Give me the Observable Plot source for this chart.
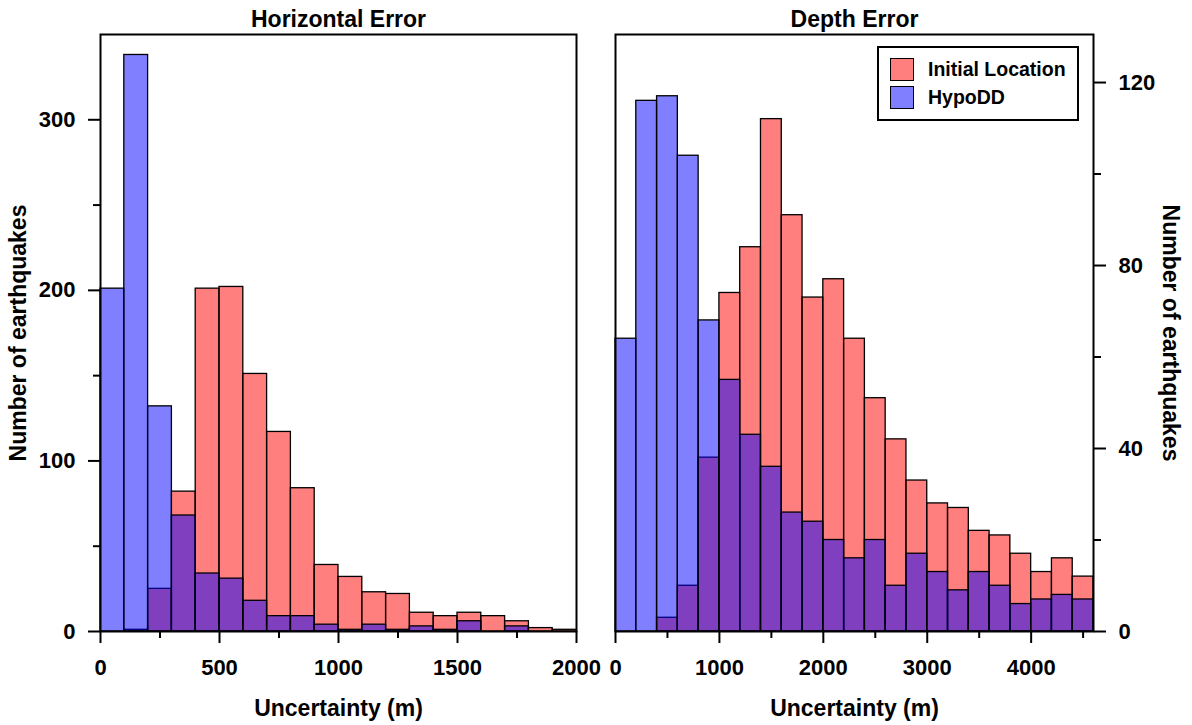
<!DOCTYPE html>
<html>
<head>
<meta charset="utf-8">
<script src="https://cdn.jsdelivr.net/npm/d3@7"></script>
<script src="https://cdn.jsdelivr.net/npm/@observablehq/plot@0.6"></script>
<style>
  html, body { margin: 0; padding: 0; background: white; }
  #wrap { position: relative; width: 1192px; height: 725px; overflow: hidden; font-family: "Liberation Sans", Arial, sans-serif; }
  #wrap svg { position: absolute; left: 0; top: 0; }
  #legend { position: absolute; left: 877px; top: 46px; width: 198px; height: 71px; border: 2px solid #000; background: #fff; font-weight: bold; font-size: 19.5px; }
  .li { position: absolute; left: 11px; height: 23px; display: flex; align-items: center; }
  .sw { width: 22px; height: 21px; border: 1px solid #000; margin-right: 14px; }
</style>
</head>
<body>
<div id="wrap"></div>
<script>
// Horizontal error histogram (bin width 100 m)
const hBins = [0,100,200,300,400,500,600,700,800,900,1000,1100,1200,1300,1400,1500,1600,1700,1800,1900];
const hInitial = [0,1,25,82,201,202,151,117,84,39,32,23,22,11,9,11,9,6,2,1];
const hHypoDD = [201,338,132,68,34,31,18,9,9,4,1,4,1,3,1,6,0,3,0,0];
const hXMajor = [0,500,1000,1500,2000];
const hXMinor = [250,750,1250,1750];
const hYMajor = [0,100,200,300];
const hYMinor = [50,150,250];

// Depth error histogram (bin width 200 m)
const dBins = [0,200,400,600,800,1000,1200,1400,1600,1800,2000,2200,2400,2600,2800,3000,3200,3400,3600,3800,4000,4200,4400];
const dInitial = [0,0,3,10,38,74,84,112,91,73,77,64,51,42,33,28,27,22,21,17,13,16,12];
const dHypoDD = [64,116,117,104,68,55,43,36,26,24,20,16,20,10,17,13,9,13,10,6,7,8,7];
const dXMajor = [0,1000,2000,3000,4000];
const dXMinor = [500,1500,2500,3500,4500];
const dYMajor = [0,40,80,120];
const dYMinor = [20,60,100];

const seriesNames = ["Initial Location", "HypoDD"];
const seriesColors = ["red", "blue"];
const swatchColors = ["rgba(255,0,0,0.5)", "rgba(0,0,255,0.5)"];

const font = '"Liberation Sans", Arial, sans-serif';

function rows(bins, counts, width) {
  return bins.map((b, i) => ({x1: b, x2: b + width, n: counts[i]}));
}

function panel(opts) {
  const {bins, width, initial, hypo, xDomain, yDomain, xMajor, xMinor, yMajor, yMinor,
         yAnchor, title, ml, mr, ylabDx} = opts;
  return Plot.plot({
    width: 1192, height: 725,
    marginLeft: ml, marginRight: mr, marginTop: 34, marginBottom: 94,
    x: {domain: xDomain},
    y: {domain: yDomain},
    style: {background: "transparent", fontFamily: font, fontSize: "22px", fontWeight: "bold", overflow: "visible", color: "black"},
    marks: [
      Plot.rectY(rows(bins, initial, width), {x1: "x1", x2: "x2", y: "n", fill: seriesColors[0], fillOpacity: 0.5, stroke: "black", strokeWidth: 1.3}),
      Plot.rectY(rows(bins, hypo, width), {x1: "x1", x2: "x2", y: "n", fill: seriesColors[1], fillOpacity: 0.5, stroke: "black", strokeWidth: 1.3}),
      Plot.frame({stroke: "black", strokeWidth: 2}),
      Plot.axisX({ticks: xMajor, tickSize: 12, tickPadding: 16, strokeWidth: 2, tickFormat: d3.format("d"), label: null}),
      Plot.axisX({ticks: xMinor, tickSize: 7, strokeWidth: 2, tickFormat: () => "", label: null}),
      Plot.axisY({anchor: yAnchor, ticks: yMajor, tickSize: 12, tickPadding: 13, strokeWidth: 2, tickFormat: d3.format("d"), label: null}),
      Plot.axisY({anchor: yAnchor, ticks: yMinor, tickSize: 7, strokeWidth: 2, tickFormat: () => "", label: null}),
      Plot.text([title], {text: d => d, frameAnchor: "top", dy: -15, lineAnchor: "middle", fontSize: 23, fontWeight: "bold"}),
      Plot.text(["Uncertainty (m)"], {text: d => d, frameAnchor: "bottom", dy: 77, lineAnchor: "middle", fontSize: 23, fontWeight: "bold"}),
      Plot.text(["Number of earthquakes"], {text: d => d, frameAnchor: yAnchor, dx: ylabDx, rotate: yAnchor === "left" ? -90 : 90, lineAnchor: "middle", textAnchor: "middle", fontSize: 23, fontWeight: "bold"})
    ]
  });
}

const wrap = document.getElementById("wrap");
wrap.append(panel({
  bins: hBins, width: 100, initial: hInitial, hypo: hHypoDD,
  xDomain: [0, 2000], yDomain: [0, 350], xMajor: hXMajor, xMinor: hXMinor, yMajor: hYMajor, yMinor: hYMinor,
  yAnchor: "left", title: "Horizontal Error", ml: 100, mr: 616, ylabDx: -82
}));
wrap.append(panel({
  bins: dBins, width: 200, initial: dInitial, hypo: dHypoDD,
  xDomain: [0, 4600], yDomain: [0, 130.5], xMajor: dXMajor, xMinor: dXMinor, yMajor: dYMajor, yMinor: dYMinor,
  yAnchor: "right", title: "Depth Error", ml: 615, mr: 99, ylabDx: 77
}));

// Legend
const legend = document.createElement("div");
legend.id = "legend";
seriesNames.forEach((name, i) => {
  const item = document.createElement("div");
  item.className = "li";
  item.style.top = (10 + i * 28) + "px";
  const sw = document.createElement("div");
  sw.className = "sw";
  sw.style.backgroundColor = swatchColors[i];
  const t = document.createElement("span");
  t.textContent = name;
  item.append(sw, t);
  legend.append(item);
});
wrap.append(legend);
</script>
</body>
</html>
